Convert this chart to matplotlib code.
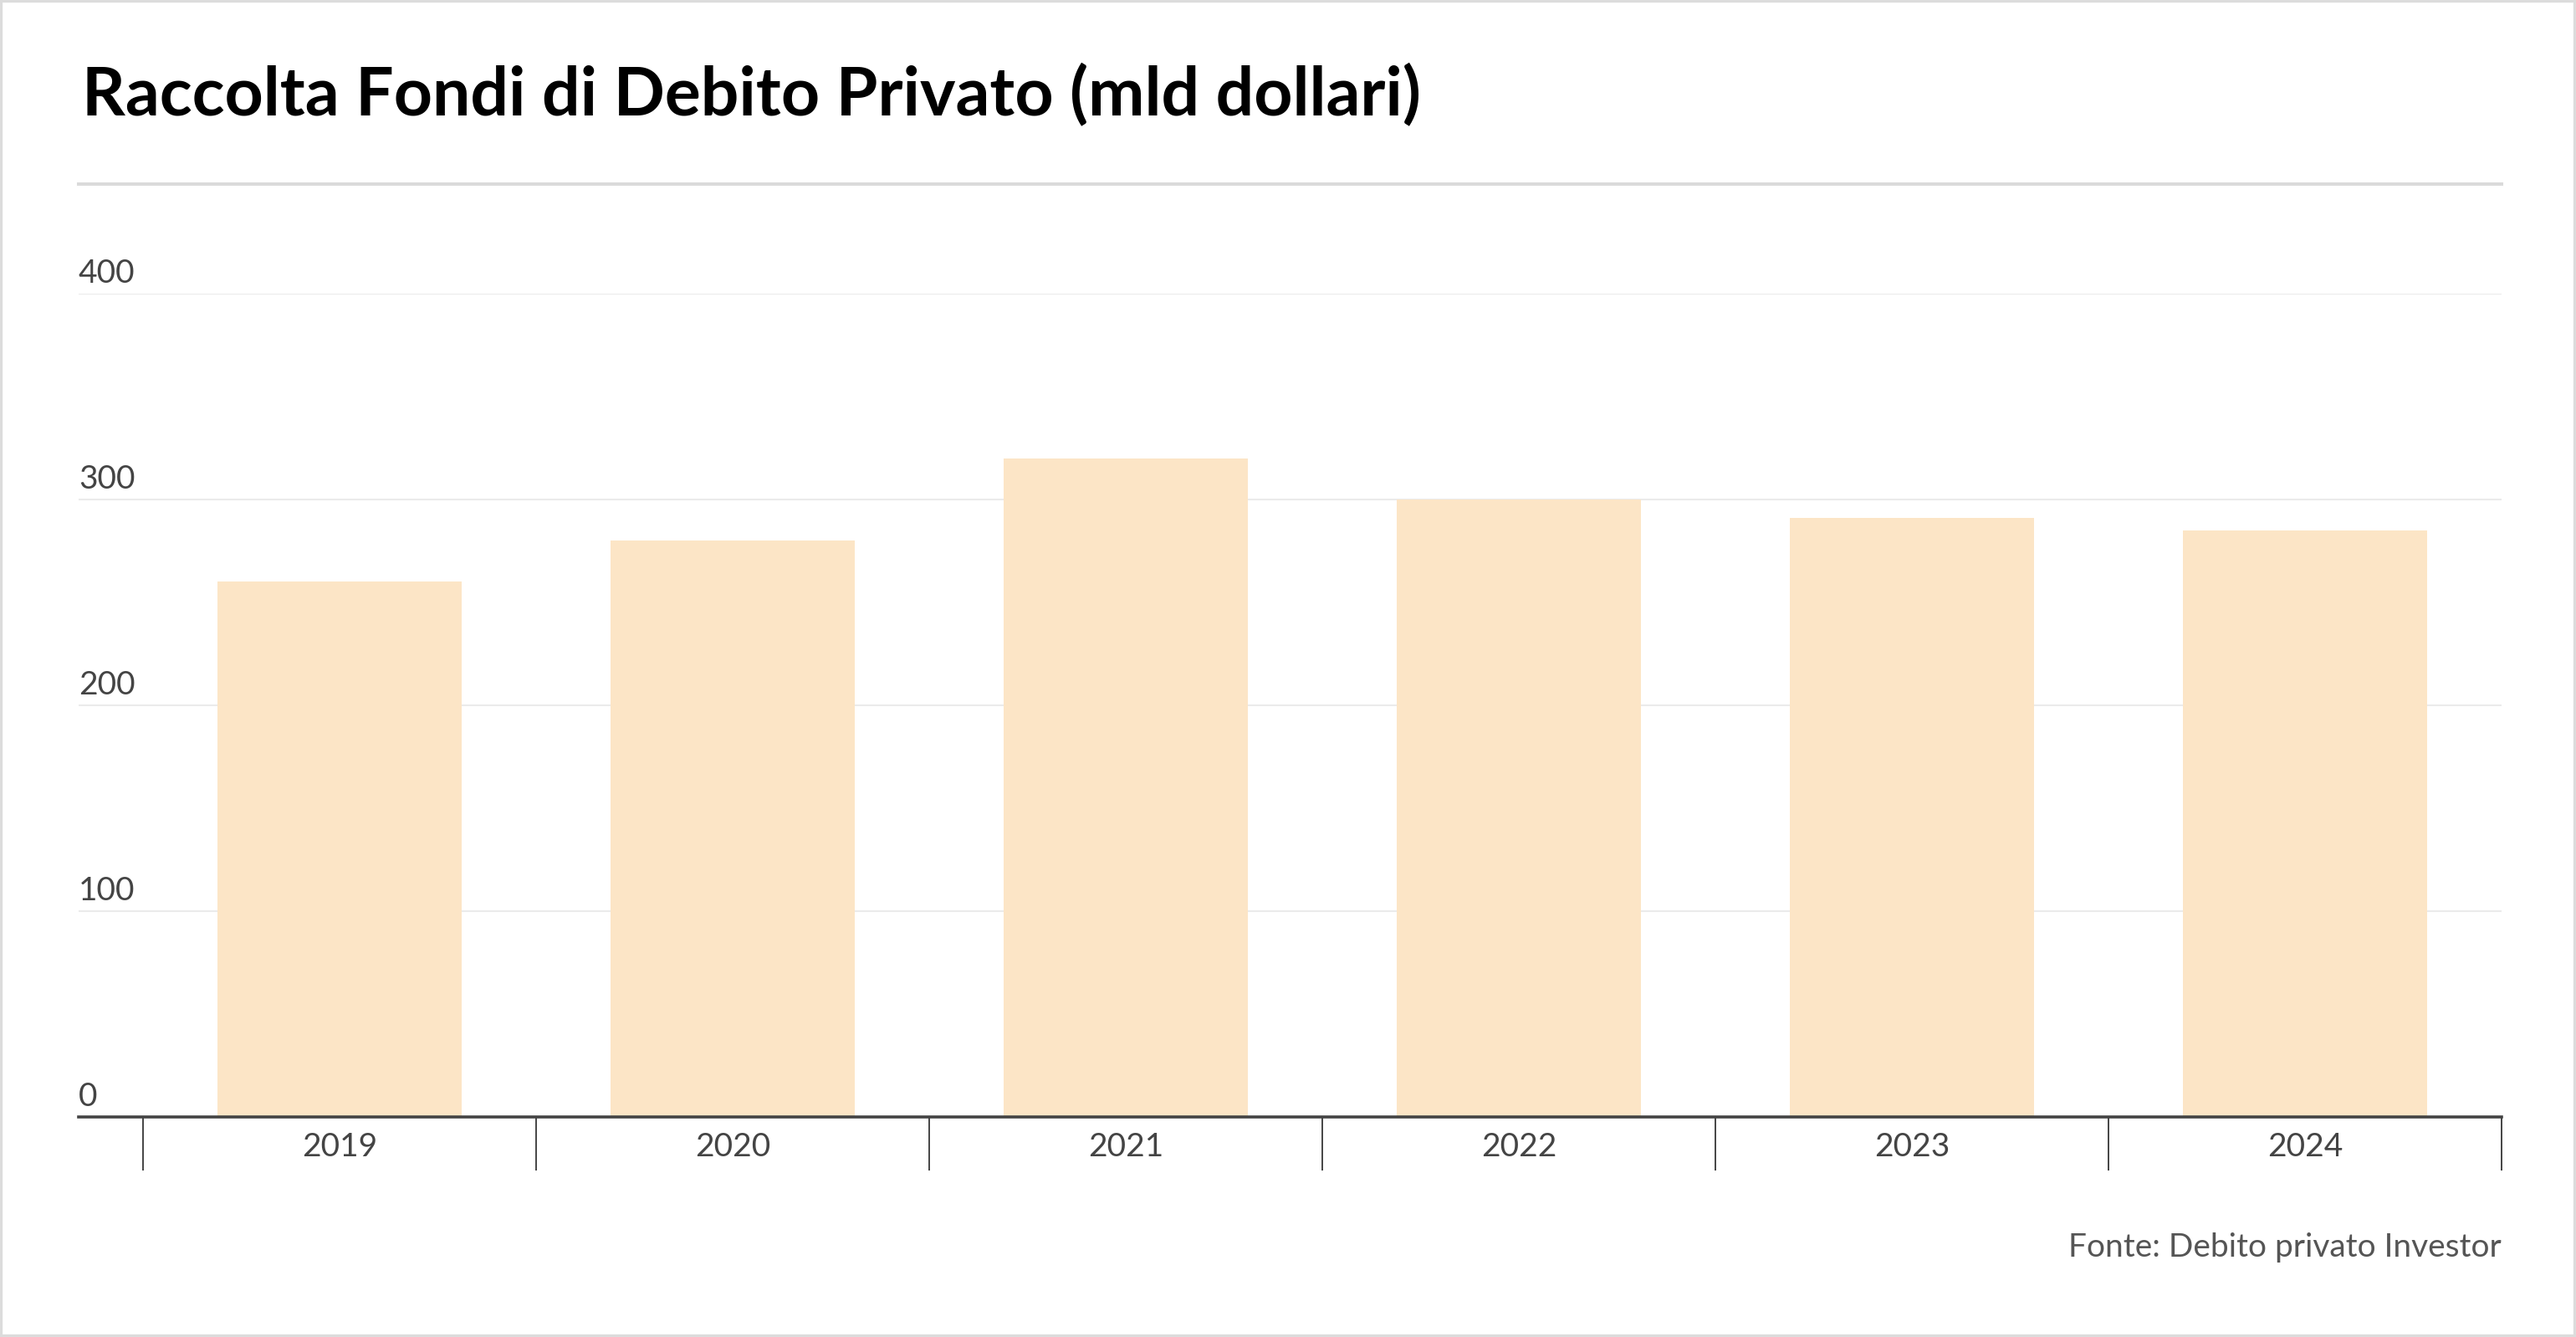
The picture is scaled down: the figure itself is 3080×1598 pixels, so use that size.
import matplotlib
matplotlib.use("Agg")
import matplotlib.pyplot as plt
from matplotlib.patches import Rectangle
from matplotlib.lines import Line2D

plt.rcParams['font.family'] = ['Lato', 'DejaVu Sans']

# data
years = ['2019', '2020', '2021', '2022', '2023', '2024']
raised = [260, 280, 320, 300, 291, 285]
y_ticks = [0, 100, 200, 300, 400]

bar_color = '#fce5c6'
text_color = '#444444'

fig = plt.figure(figsize=(30.8, 15.98), dpi=100)
ax = fig.add_axes([0.0305, 0.1646, 0.9406, 0.6158])

x = list(range(len(years)))
ax.bar(x, raised, width=0.62, color=bar_color, zorder=2)

ax.set_xlim(-0.664, len(years) - 0.5)
ax.set_ylim(0, 400)

# horizontal grid, labels sit above the lines
ax.set_yticks(y_ticks)
ax.set_yticklabels([])
ax.tick_params(axis='y', length=0)
ax.yaxis.grid(True, color='#ebebeb', linewidth=1.5, zorder=0)
ax.set_axisbelow(True)
for v in y_ticks:
    ax.annotate(str(v), xy=(0, v), xycoords=('axes fraction', 'data'),
                xytext=(0, 9), textcoords='offset points',
                ha='left', va='baseline', fontsize=28, color=text_color)

# category labels with separator ticks between them
ax.set_xticks(x)
ax.set_xticklabels(years, fontsize=28, color=text_color)
ax.tick_params(axis='x', which='major', length=0, pad=13)
ax.set_xticks([i - 0.5 for i in range(len(years) + 1)], minor=True)
ax.tick_params(axis='x', which='minor', length=46, width=1.4, color=text_color, direction='out')

for s in ['top', 'right', 'left']:
    ax.spines[s].set_visible(False)
ax.spines['bottom'].set_color(text_color)
ax.spines['bottom'].set_linewidth(2.6)
ax.spines['bottom'].set_zorder(3)

# title, rule under it, source and frame
fig.text(0.0318, 0.9287, 'Raccolta Fondi di Debito Privato (mld dollari)',
         fontsize=58, fontweight='bold', color='black', ha='left', va='center')
fig.add_artist(Line2D([0.0305, 0.9711], [0.8623, 0.8623], transform=fig.transFigure,
                      color='#dadada', linewidth=2.9))
fig.text(0.9711, 0.067, 'Fonte: Debito privato Investor', fontsize=28,
         color='#555555', ha='right', va='center')
fig.add_artist(Rectangle((0, 0), 1, 1, transform=fig.transFigure, fill=False,
                         edgecolor='#dcdcdc', linewidth=4.5))

fig.savefig('out.png', dpi=100, facecolor='white')
